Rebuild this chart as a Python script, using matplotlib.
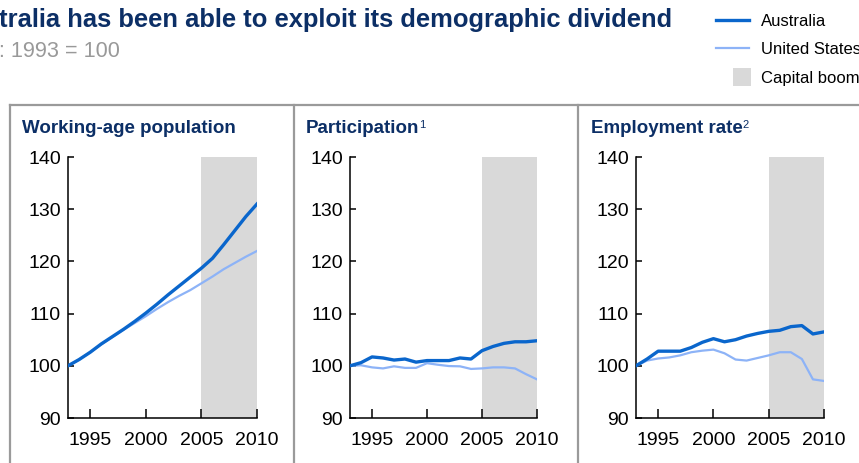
#!/usr/bin/env python3
"""Australia vs United States demographic dividend: three small index panels."""

import matplotlib

matplotlib.use("Agg")
import matplotlib.pyplot as plt
from matplotlib.legend_handler import HandlerPatch
from matplotlib.lines import Line2D
from matplotlib.patches import Patch, Rectangle

years = list(range(1993, 2011))

pop_aus = [100, 101.2, 102.6, 104.2, 105.6, 107.0, 108.5, 110.1, 111.8, 113.6,
           115.3, 117.0, 118.7, 120.6, 123.2, 125.9, 128.6, 131.0]
pop_us = [100, 101.2, 102.6, 104.1, 105.5, 106.9, 108.2, 109.5, 110.9, 112.2,
          113.4, 114.5, 115.8, 117.1, 118.5, 119.7, 120.9, 122.0]

part_aus = [100, 100.6, 101.7, 101.5, 101.1, 101.3, 100.7, 101.0, 101.0, 101.0,
            101.5, 101.3, 102.9, 103.7, 104.3, 104.6, 104.6, 104.8]
part_us = [100, 100.1, 99.7, 99.5, 99.9, 99.6, 99.6, 100.5, 100.2, 99.95,
           99.9, 99.4, 99.5, 99.7, 99.7, 99.5, 98.4, 97.4]

emp_aus = [100, 101.3, 102.8, 102.8, 102.8, 103.5, 104.5, 105.2, 104.6, 105.0,
           105.7, 106.2, 106.6, 106.8, 107.5, 107.7, 106.1, 106.5]
emp_us = [100, 101.0, 101.4, 101.6, 102.0, 102.6, 102.9, 103.1, 102.4, 101.2,
          101.0, 101.5, 102.0, 102.6, 102.6, 101.3, 97.4, 97.1]

boom = (2005, 2010)
panel_titles = ["Working-age population", "Participation", "Employment rate"]
panel_notes = ["", "1", "2"]
yticks = [90, 100, 110, 120, 130, 140]
xticks = [1995, 2000, 2005, 2010]

COLORS = {
    "aus": "#0a66cc",
    "us": "#8db3f7",
    "boom": "#d9d9d9",
    "navy": "#0c2f66",
    "grey_text": "#999999",
    "box": "#9a9a9a",
}

plt.rcParams["font.family"] = ["Liberation Sans", "DejaVu Sans"]

W, H = 859, 463
fig = plt.figure(figsize=(W / 100, H / 100), dpi=100)


def fx(px):
    return px / W


def fy(py):
    return 1 - py / H


def boom_square(legend, orig_handle, xdescent, ydescent, width, height, fontsize):
    # small square sitting at the right end of the handle box
    return Rectangle((-xdescent + 0.5 * width, -ydescent - 0.1 * height),
                     0.56 * width, 1.2 * height)


# headline, cut at the left edge like the source
fig.text(fx(672), fy(27), "Australia has been able to exploit its demographic dividend",
         ha="right", va="baseline", fontsize=18.4, fontweight="bold", color=COLORS["navy"])
fig.text(fx(120), fy(57), "Index: 1993 = 100", ha="right", va="baseline",
         fontsize=15.6, color=COLORS["grey_text"])

# legend
handles = [
    Line2D([], [], color=COLORS["aus"], lw=2.4),
    Line2D([], [], color=COLORS["us"], lw=1.6),
    Patch(facecolor=COLORS["boom"], edgecolor="none"),
]
fig.legend(handles, ["Australia", "United States", "Capital boom"],
           loc="upper left", bbox_to_anchor=(fx(716), fy(13)), frameon=False,
           fontsize=12, handlelength=2.0, handleheight=1.0, labelspacing=0.72,
           handletextpad=0.72, borderaxespad=0, borderpad=0,
           handler_map={Patch: HandlerPatch(patch_func=boom_square)})

# panel frames
box_top = 105
fig.add_artist(Line2D([fx(10), 1.0], [fy(box_top), fy(box_top)], color=COLORS["box"], lw=1.6))
for xb in (10, 294, 578):
    fig.add_artist(Line2D([fx(xb), fx(xb)], [fy(box_top), 0], color=COLORS["box"], lw=1.6))

panels = [
    (68, 257, 22, pop_aus, pop_us),
    (350, 537, 306, part_aus, part_us),
    (636, 824, 591, emp_aus, emp_us),
]
ax_top, ax_bottom = 157, 418

for (left, right, tx, aus, us), title, note in zip(panels, panel_titles, panel_notes):
    ax = fig.add_axes([fx(left), fy(ax_bottom), fx(right - left), fy(ax_top) - fy(ax_bottom)])
    ax.axvspan(boom[0], boom[1], color=COLORS["boom"], lw=0, zorder=0)
    ax.plot(years, us, color=COLORS["us"], lw=1.6, zorder=2)
    ax.plot(years, aus, color=COLORS["aus"], lw=2.4, zorder=3)
    ax.set_xlim(1993, 2010)
    ax.set_ylim(90, 140)
    ax.set_yticks(yticks)
    ax.set_xticks(xticks)
    ax.spines["top"].set_visible(False)
    ax.spines["right"].set_visible(False)
    for side in ("left", "bottom"):
        ax.spines[side].set_linewidth(1.1)
    ax.tick_params(axis="y", direction="in", length=4.5, width=1.1, pad=5, labelsize=14)
    ax.tick_params(axis="x", direction="in", length=6.5, width=1.1, pad=10, labelsize=14)

    t = fig.text(fx(tx), fy(133), title, ha="left", va="baseline", fontsize=13.5,
                 fontweight="bold", color=COLORS["navy"])
    if note:
        fig.canvas.draw()
        bb = t.get_window_extent()
        fig.text(bb.x1 / W, fy(128), note, ha="left", va="baseline",
                 fontsize=8, color=COLORS["navy"])

fig.savefig("out.png", dpi=100)
